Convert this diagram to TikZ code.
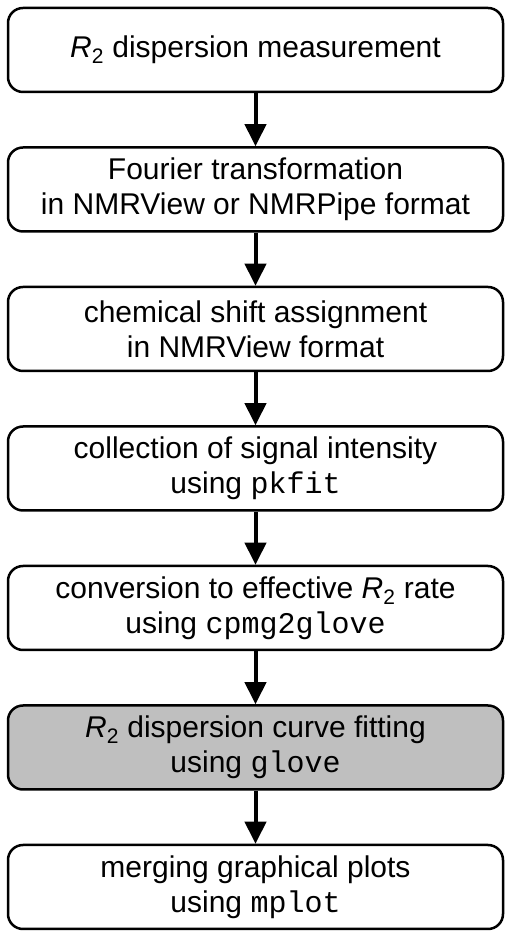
\documentclass[tikz,border=0pt]{standalone}
\usepackage{fontspec}
\setmainfont{Liberation Sans}
\setmonofont{Liberation Mono}
\usepackage{tikz}
\usetikzlibrary{positioning,arrows.meta}

\newcommand{\rtwo}{\textit{R}\textsubscript{2}}

\tikzset{
    stepbox/.style={draw, line width=2.5pt, rounded corners=15pt, inner sep=2pt, minimum width=495pt, minimum height=84pt, align=center, font=\fontsize{30}{35}\selectfont},
    flow/.style={line width=4pt, -{Triangle[length=22pt,width=21pt]}}
}

\begin{document}
\begin{tikzpicture}[x=1pt, y=1pt, node distance=53pt]
    \useasboundingbox (0,0) rectangle (512,937);
    \node[stepbox] (meas) at (255.5,887) {\rtwo{} dispersion measurement};
    \node[stepbox, below=of meas] (ft) {Fourier transformation\\in NMRView or NMRPipe format};
    \node[stepbox, below=of ft] (assign) {chemical shift assignment\\in NMRView format};
    \node[stepbox, below=of assign] (pkfit) {collection of signal intensity\\using \texttt{pkfit}};
    \node[stepbox, below=of pkfit] (conv) {conversion to effective \rtwo{} rate\\using \texttt{cpmg2glove}};
    \node[stepbox, fill=black!25, below=of conv] (fit) {\rtwo{} dispersion curve fitting\\using \texttt{glove}};
    \node[stepbox, below=of fit] (merge) {merging graphical plots\\using \texttt{mplot}};
    \foreach \a/\b in {meas/ft, ft/assign, assign/pkfit, pkfit/conv, conv/fit, fit/merge}
        \draw[flow] (\a) -- (\b);
\end{tikzpicture}
\end{document}
